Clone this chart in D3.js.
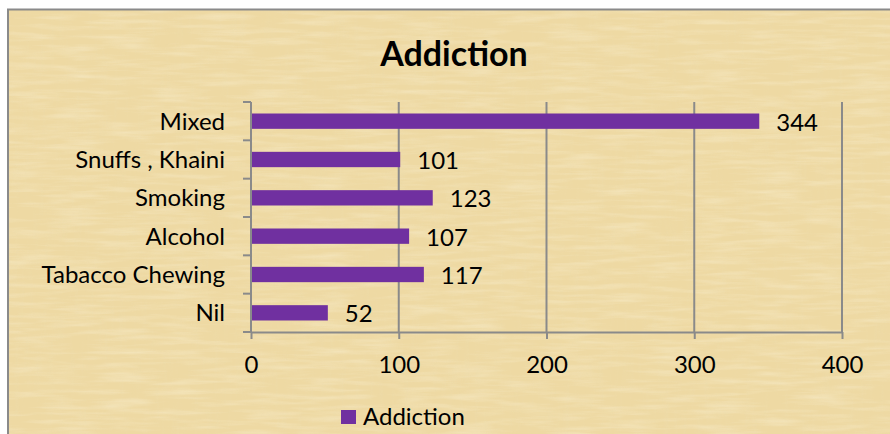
<!DOCTYPE html>
<html>
<head>
<meta charset="utf-8">
<script src="https://cdn.jsdelivr.net/npm/d3@7"></script>
<style>
  body { margin: 0; background: #fff; }
  text { font-family: Lato, "Open Sans", sans-serif; fill: #000; }
</style>
</head>
<body>
<div class="chart"></div>
<script>
const categories = ["Mixed", "Snuffs , Khaini", "Smoking", "Alcohol", "Tabacco Chewing", "Nil"];
const values = [344, 101, 123, 107, 117, 52];
const xTicks = [0, 100, 200, 300, 400];
const seriesName = "Addiction";

const W = 890, H = 434;
const plot = {left: 251, right: 842, top: 102, bottom: 332};

const svg = d3.select(".chart").append("svg")
    .attr("width", W)
    .attr("height", H);

// parchment look
const defs = svg.append("defs");
const f1 = defs.append("filter").attr("id", "grain")
    .attr("x", 0).attr("y", 0).attr("width", "100%").attr("height", "100%");
f1.append("feTurbulence")
    .attr("type", "fractalNoise")
    .attr("baseFrequency", "0.02 0.2")
    .attr("numOctaves", 3)
    .attr("seed", 4);
f1.append("feColorMatrix")
    .attr("type", "matrix")
    .attr("values", "0 0 0 0 0.98  0 0 0 0 0.93  0 0 0 0 0.76  1.1 0 0 0 -0.45");
const f2 = defs.append("filter").attr("id", "grain2")
    .attr("x", 0).attr("y", 0).attr("width", "100%").attr("height", "100%");
f2.append("feTurbulence")
    .attr("type", "fractalNoise")
    .attr("baseFrequency", "0.2 0.02")
    .attr("numOctaves", 3)
    .attr("seed", 9);
f2.append("feColorMatrix")
    .attr("type", "matrix")
    .attr("values", "0 0 0 0 0.84  0 0 0 0 0.74  0 0 0 0 0.46  1.1 0 0 0 -0.5");

svg.append("rect")
    .attr("x", 8).attr("y", 9)
    .attr("width", W).attr("height", H)
    .attr("fill", "#eed9a3");
svg.append("rect")
    .attr("x", 8).attr("y", 9)
    .attr("width", W).attr("height", H)
    .attr("filter", "url(#grain)")
    .attr("opacity", 0.6);
svg.append("rect")
    .attr("x", 8).attr("y", 9)
    .attr("width", W).attr("height", H)
    .attr("filter", "url(#grain2)")
    .attr("opacity", 0.3);
svg.append("rect")
    .attr("x", 8).attr("y", 9.5)
    .attr("width", W + 10).attr("height", H + 10)
    .attr("fill", "none")
    .attr("stroke", "#8a8a8a")
    .attr("stroke-width", 2);

const xScale = d3.scaleLinear()
    .domain([0, 400])
    .range([plot.left, plot.right]);

const yScale = d3.scaleBand()
    .domain(categories)
    .range([plot.top, plot.bottom])
    .paddingInner(0.6)
    .paddingOuter(0.3);

const yEdges = d3.scaleBand()
    .domain(categories)
    .range([plot.top, plot.bottom]);

// title
svg.append("text")
    .attr("x", 454)
    .attr("y", 66)
    .attr("text-anchor", "middle")
    .attr("font-size", 34)
    .attr("font-weight", "bold")
    .text(seriesName);

// vertical grid lines
svg.append("g")
    .selectAll("line")
    .data(xTicks.slice(1))
    .join("line")
    .attr("x1", d => xScale(d)).attr("x2", d => xScale(d))
    .attr("y1", plot.top).attr("y2", plot.bottom)
    .attr("stroke", "#8a8a8a")
    .attr("stroke-width", 2);

// x axis
const xAxis = d3.axisBottom(xScale)
    .tickValues(xTicks)
    .tickSize(7)
    .tickPadding(17)
    .tickSizeOuter(0);

svg.append("g")
    .attr("transform", `translate(0,${plot.bottom})`)
    .call(xAxis)
    .call(g => g.select(".domain").attr("stroke", "#8a8a8a").attr("stroke-width", 2))
    .call(g => g.selectAll(".tick line").attr("stroke", "#8a8a8a").attr("stroke-width", 2))
    .call(g => g.selectAll(".tick text")
        .attr("font-size", 24)
        .attr("font-family", "Lato, sans-serif")
        .attr("fill", "#000"));

// y axis line with ticks at band edges
const yLine = svg.append("g");
yLine.append("line")
    .attr("x1", plot.left).attr("x2", plot.left)
    .attr("y1", plot.top).attr("y2", plot.bottom)
    .attr("stroke", "#8a8a8a")
    .attr("stroke-width", 2);
yLine.selectAll(".edge")
    .data(categories.map(c => yEdges(c)).concat([plot.bottom]))
    .join("line")
    .attr("class", "edge")
    .attr("x1", plot.left - 8).attr("x2", plot.left)
    .attr("y1", d => d).attr("y2", d => d)
    .attr("stroke", "#8a8a8a")
    .attr("stroke-width", 2);

// category labels
svg.append("g")
    .selectAll("text")
    .data(categories)
    .join("text")
    .attr("x", 225)
    .attr("y", d => yEdges(d) + yEdges.bandwidth() / 2)
    .attr("dy", "0.36em")
    .attr("text-anchor", "end")
    .attr("font-size", 24)
    .text(d => d);

// bars
svg.append("g")
    .attr("fill", "#7030a0")
    .selectAll("rect")
    .data(values)
    .join("rect")
    .attr("x", xScale(0) + 1)
    .attr("y", (d, i) => yScale(categories[i]))
    .attr("width", d => xScale(d) - xScale(0) - 1)
    .attr("height", yScale.bandwidth());

// data labels
svg.append("g")
    .selectAll("text")
    .data(values)
    .join("text")
    .attr("x", d => xScale(d) + 17)
    .attr("y", (d, i) => yScale(categories[i]) + yScale.bandwidth() / 2)
    .attr("dy", "0.4em")
    .attr("font-size", 24)
    .text(d => d);

// legend
const legend = svg.append("g").attr("transform", "translate(341,410)");
legend.append("rect")
    .attr("width", 15).attr("height", 14)
    .attr("fill", "#7030a0");
legend.append("text")
    .attr("x", 22)
    .attr("y", 14.5)
    .attr("font-size", 24)
    .text(seriesName);
</script>
</body>
</html>
